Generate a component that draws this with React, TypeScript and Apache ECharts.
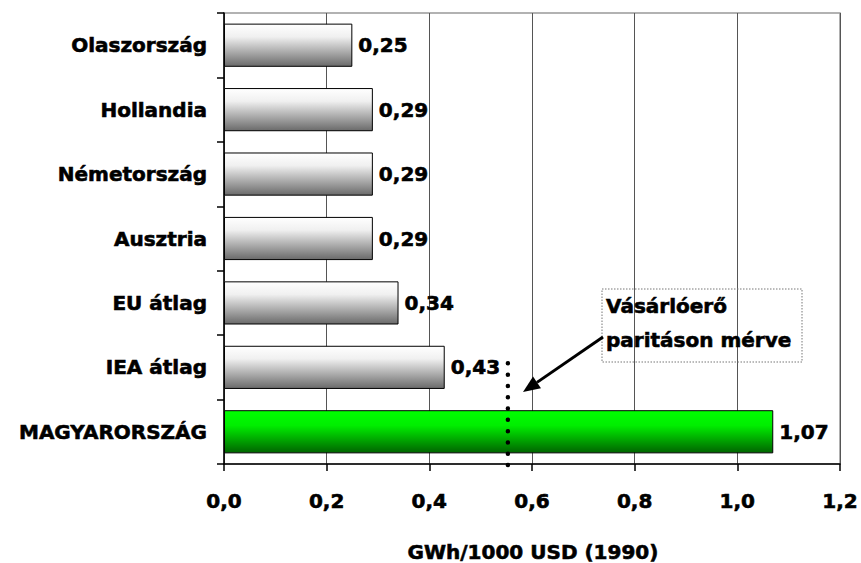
import React, { useEffect, useRef } from "react";
import * as echarts from "echarts";

const categories = [
  "Olaszország",
  "Hollandia",
  "Németország",
  "Ausztria",
  "EU átlag",
  "IEA átlag",
  "MAGYARORSZÁG",
];
const values = [0.25, 0.29, 0.29, 0.29, 0.34, 0.43, 1.07];
const highlightIndex = 6;
const xTicks = { min: 0, max: 1.2, interval: 0.2 };
const pppValue = 0.553;
const axisTitle = "GWh/1000 USD (1990)";
const noteLines = ["Vásárlóerő", "paritáson mérve"];

const FONT = "'DejaVu Sans', 'Liberation Sans', sans-serif";
const FS = 20;
const TB = 0.6;

const fmt = (v: number, d: number) => v.toFixed(d).replace(".", ",");

export default function App() {
  const ref = useRef<HTMLDivElement>(null);
  useEffect(() => {
    if (!ref.current) return;
    const chart = echarts.init(ref.current, undefined, { renderer: "svg" });
    const grayGrad = new echarts.graphic.LinearGradient(0, 0, 0, 1, [
      { offset: 0, color: "#ffffff" },
      { offset: 0.3, color: "#f0f0f0" },
      { offset: 1, color: "#6a6a6a" },
    ]);
    const greenGrad = new echarts.graphic.LinearGradient(0, 0, 0, 1, [
      { offset: 0, color: "#00ff00" },
      { offset: 0.35, color: "#00ee00" },
      { offset: 1, color: "#006400" },
    ]);
    const txt = {
      fontFamily: FONT,
      fontSize: FS,
      fontWeight: "bold",
      color: "#000",
      textBorderColor: "#000",
      textBorderWidth: TB,
    };
    chart.setOption({
      animation: false,
      grid: {
        left: 224,
        top: 13,
        width: 618,
        height: 451,
        show: true,
        borderColor: "#999",
        borderWidth: 1.5,
        backgroundColor: "transparent",
      },
      xAxis: {
        type: "value",
        min: xTicks.min,
        max: xTicks.max,
        interval: xTicks.interval,
        axisLine: { show: true, lineStyle: { color: "#000", width: 1.5 } },
        axisTick: { show: true, length: 7, lineStyle: { color: "#000", width: 1.5 } },
        axisLabel: {
          margin: 27,
          ...txt,
          formatter: (v: number) => fmt(v, 1),
        },
        splitLine: { show: true, lineStyle: { color: "#555", width: 1 } },
      },
      yAxis: {
        type: "category",
        inverse: true,
        data: categories,
        axisLine: { show: true, lineStyle: { color: "#000", width: 1.5 } },
        axisTick: { show: true, length: 7, lineStyle: { color: "#000", width: 1.5 } },
        axisLabel: {
          margin: 17,
          ...txt,
        },
      },
      series: [
        {
          type: "bar",
          barCategoryGap: "33%",
          data: values.map((v, i) => ({
            value: v,
            itemStyle: {
              color: i === highlightIndex ? greenGrad : grayGrad,
              borderColor: "#000",
              borderWidth: 1,
            },
          })),
          label: {
            show: true,
            position: "right",
            distance: 6,
            ...txt,
            formatter: (p: any) => fmt(p.value, 2),
          },
        },
      ],
    });

    const px = chart.convertToPixel({ xAxisIndex: 0 }, pppValue) as number;
    const yTop = chart.convertToPixel({ yAxisIndex: 0 }, categories[5]) as number;
    const S = [603, 337];
    const T = [523, 392];
    const dx = T[0] - S[0];
    const dy = T[1] - S[1];
    const len = Math.hypot(dx, dy);
    const ux = dx / len;
    const uy = dy / len;
    const hl = 17;
    const hw = 7;
    const B = [T[0] - hl * ux, T[1] - hl * uy];
    const nx = uy;
    const ny = -ux;
    const gtxt = {
      fontFamily: FONT,
      fontSize: FS,
      fontWeight: "bold",
      fill: "#000",
      stroke: "#000",
      lineWidth: TB,
    };

    chart.setOption({
      graphic: [
        {
          type: "line",
          shape: { x1: px, y1: yTop - 4, x2: px, y2: 468 },
          style: { stroke: "#000", lineWidth: 4.5, lineDash: [0, 11.3], lineCap: "round" },
          z: 100,
        },
        {
          type: "rect",
          shape: { x: 602, y: 289, width: 200, height: 73 },
          style: { fill: "transparent", stroke: "#777", lineWidth: 1, lineDash: [1.5, 1.5] },
          z: 100,
        },
        {
          type: "text",
          x: 606,
          y: 306,
          style: { text: noteLines[0], ...gtxt, verticalAlign: "middle" },
          z: 101,
        },
        {
          type: "text",
          x: 606,
          y: 340,
          style: { text: noteLines[1], ...gtxt, verticalAlign: "middle" },
          z: 101,
        },
        {
          type: "line",
          shape: { x1: S[0], y1: S[1], x2: B[0], y2: B[1] },
          style: { stroke: "#000", lineWidth: 3 },
          z: 101,
        },
        {
          type: "polygon",
          shape: {
            points: [
              [T[0], T[1]],
              [B[0] + hw * nx, B[1] + hw * ny],
              [B[0] - hw * nx, B[1] - hw * ny],
            ],
          },
          style: { fill: "#000" },
          z: 101,
        },
        {
          type: "text",
          x: 533,
          y: 552,
          style: { text: axisTitle, ...gtxt, align: "center", verticalAlign: "middle" },
        },
      ],
    });
    return () => chart.dispose();
  }, []);
  return (
    <div
      ref={ref}
      style={{ position: "fixed", left: 0, top: 0, width: 861, height: 563, background: "#fff" }}
    />
  );
}
